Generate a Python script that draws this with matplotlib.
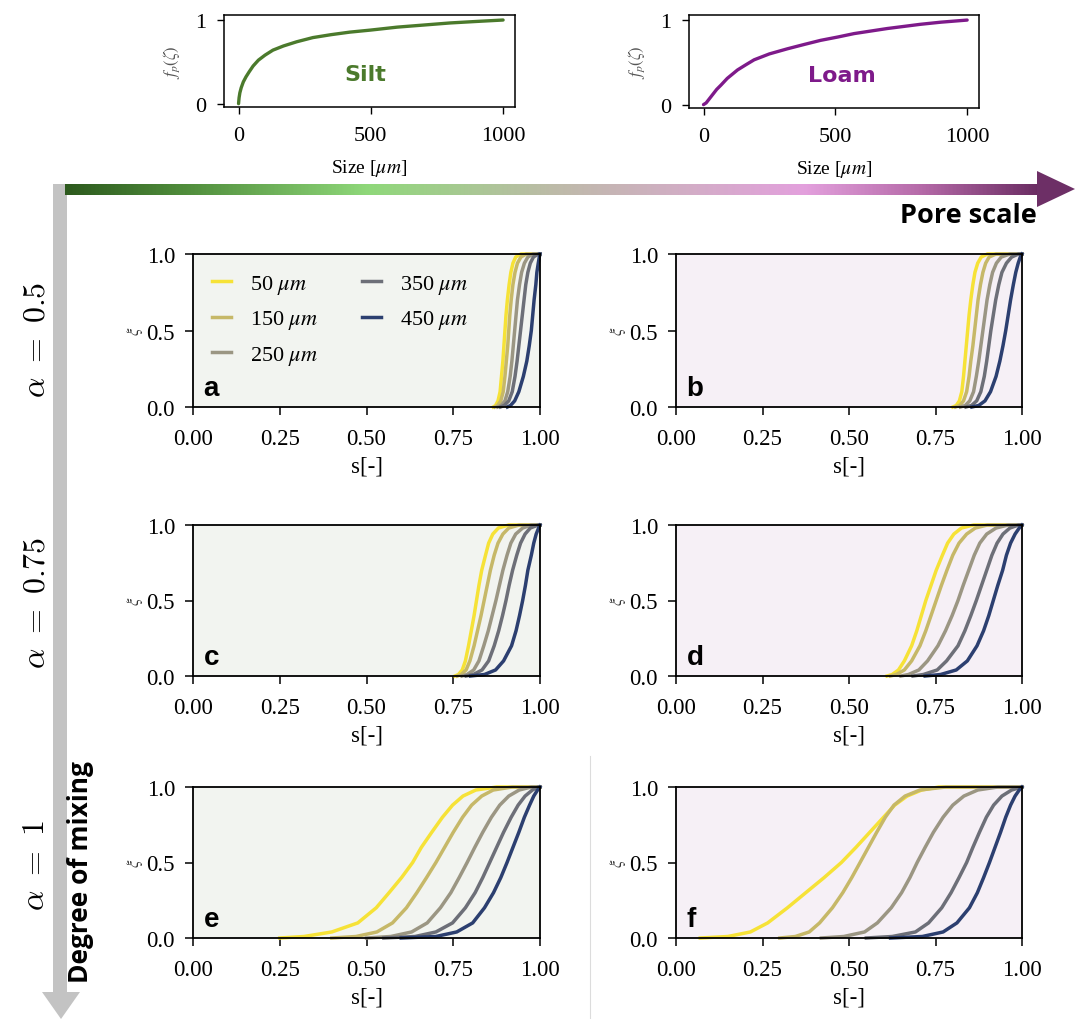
import matplotlib
matplotlib.use('Agg')
import numpy as np
import matplotlib.pyplot as plt
from matplotlib.colors import LinearSegmentedColormap
from matplotlib.patches import Polygon, Rectangle

# ---------------- data ----------------
SILT_SIZE = [0, 2, 5, 10, 18, 28, 40, 55, 75, 100, 130, 170, 220, 281, 350, 420,
             500, 600, 700, 800, 900, 1000]
SILT_FP = [0, 0.07, 0.13, 0.19, 0.26, 0.32, 0.38, 0.45, 0.52, 0.58, 0.64, 0.69,
           0.74, 0.79, 0.825, 0.855, 0.88, 0.915, 0.94, 0.965, 0.983, 1.0]
LOAM_SIZE = [0, 10, 20, 35, 50, 66, 90, 129, 160, 192, 250, 318, 380, 444, 510,
             571, 634, 697, 760, 823, 900, 1000]
LOAM_FP = [0, 0.02, 0.06, 0.12, 0.18, 0.23, 0.31, 0.41, 0.47, 0.53, 0.60, 0.66,
           0.71, 0.76, 0.80, 0.84, 0.87, 0.90, 0.925, 0.95, 0.975, 1.0]

SIZE_LABELS = [r'50 $\mu m$', r'150 $\mu m$', r'250 $\mu m$', r'350 $\mu m$', r'450 $\mu m$']
XI_LEVELS = [0, 0.01, 0.04, 0.1, 0.2, 0.3, 0.4, 0.5, 0.6, 0.7, 0.8, 0.88, 0.94, 0.98, 1.0]

# s values read at each XI level, one row per pore size (50, 150, 250, 350, 450 um)
PANEL_A = [
    [0.865, 0.872, 0.879, 0.885, 0.889, 0.893, 0.896, 0.899, 0.902, 0.906, 0.911, 0.916, 0.922, 0.930, 0.945],
    [0.870, 0.878, 0.887, 0.894, 0.899, 0.903, 0.907, 0.910, 0.913, 0.917, 0.922, 0.928, 0.935, 0.945, 0.960],
    [0.878, 0.888, 0.899, 0.907, 0.914, 0.919, 0.923, 0.927, 0.931, 0.935, 0.941, 0.947, 0.955, 0.965, 0.980],
    [0.886, 0.897, 0.910, 0.920, 0.928, 0.934, 0.939, 0.944, 0.949, 0.954, 0.959, 0.965, 0.972, 0.981, 0.995],
    [0.906, 0.915, 0.927, 0.939, 0.952, 0.962, 0.969, 0.975, 0.979, 0.983, 0.988, 0.991, 0.995, 0.998, 1.000],
]
PANEL_B = [
    [0.800, 0.810, 0.819, 0.826, 0.831, 0.835, 0.839, 0.843, 0.847, 0.852, 0.858, 0.864, 0.872, 0.882, 0.900],
    [0.808, 0.820, 0.831, 0.840, 0.847, 0.852, 0.858, 0.863, 0.868, 0.873, 0.880, 0.887, 0.895, 0.905, 0.925],
    [0.822, 0.836, 0.849, 0.860, 0.868, 0.875, 0.881, 0.887, 0.893, 0.899, 0.907, 0.915, 0.926, 0.940, 0.965],
    [0.838, 0.854, 0.869, 0.881, 0.891, 0.898, 0.904, 0.910, 0.917, 0.924, 0.933, 0.942, 0.955, 0.970, 0.990],
    [0.855, 0.875, 0.893, 0.909, 0.925, 0.936, 0.945, 0.953, 0.960, 0.967, 0.975, 0.982, 0.989, 0.995, 1.000],
]
PANEL_C = [
    [0.755, 0.765, 0.776, 0.785, 0.794, 0.802, 0.810, 0.817, 0.824, 0.832, 0.843, 0.852, 0.864, 0.880, 0.910],
    [0.762, 0.773, 0.787, 0.798, 0.810, 0.820, 0.830, 0.839, 0.848, 0.857, 0.868, 0.879, 0.893, 0.910, 0.940],
    [0.775, 0.790, 0.809, 0.824, 0.838, 0.851, 0.862, 0.873, 0.883, 0.893, 0.905, 0.916, 0.930, 0.950, 0.975],
    [0.787, 0.808, 0.833, 0.852, 0.868, 0.881, 0.892, 0.902, 0.911, 0.921, 0.933, 0.944, 0.957, 0.972, 0.995],
    [0.800, 0.840, 0.872, 0.895, 0.918, 0.931, 0.941, 0.950, 0.958, 0.965, 0.975, 0.982, 0.989, 0.996, 1.000],
]
PANEL_D = [
    [0.610, 0.625, 0.643, 0.660, 0.681, 0.696, 0.709, 0.722, 0.737, 0.752, 0.770, 0.785, 0.803, 0.825, 0.860],
    [0.620, 0.637, 0.660, 0.681, 0.705, 0.722, 0.737, 0.752, 0.767, 0.783, 0.800, 0.818, 0.840, 0.865, 0.900],
    [0.650, 0.672, 0.702, 0.727, 0.757, 0.779, 0.798, 0.815, 0.830, 0.846, 0.862, 0.878, 0.898, 0.925, 0.960],
    [0.685, 0.715, 0.755, 0.782, 0.815, 0.835, 0.852, 0.868, 0.883, 0.898, 0.913, 0.928, 0.945, 0.965, 0.990],
    [0.720, 0.765, 0.810, 0.842, 0.870, 0.889, 0.904, 0.917, 0.930, 0.944, 0.955, 0.967, 0.980, 0.992, 1.000],
]
PANEL_E = [
    [0.250, 0.320, 0.400, 0.475, 0.528, 0.565, 0.601, 0.633, 0.658, 0.688, 0.719, 0.748, 0.778, 0.815, 0.875],
    [0.400, 0.470, 0.530, 0.575, 0.615, 0.645, 0.673, 0.700, 0.725, 0.750, 0.777, 0.803, 0.832, 0.865, 0.920],
    [0.500, 0.570, 0.630, 0.675, 0.713, 0.743, 0.767, 0.790, 0.812, 0.835, 0.860, 0.884, 0.910, 0.940, 0.975],
    [0.550, 0.640, 0.700, 0.748, 0.785, 0.813, 0.835, 0.855, 0.875, 0.895, 0.917, 0.937, 0.957, 0.978, 0.995],
    [0.600, 0.700, 0.760, 0.806, 0.840, 0.866, 0.887, 0.905, 0.922, 0.939, 0.955, 0.970, 0.982, 0.993, 1.000],
]
PANEL_F = [
    [0.070, 0.150, 0.215, 0.265, 0.322, 0.375, 0.428, 0.478, 0.520, 0.560, 0.600, 0.632, 0.668, 0.710, 0.760],
    [0.300, 0.345, 0.385, 0.415, 0.452, 0.482, 0.508, 0.532, 0.556, 0.580, 0.605, 0.630, 0.662, 0.705, 0.780],
    [0.420, 0.485, 0.545, 0.582, 0.622, 0.652, 0.676, 0.697, 0.720, 0.744, 0.772, 0.800, 0.832, 0.872, 0.930],
    [0.550, 0.625, 0.692, 0.730, 0.768, 0.795, 0.818, 0.840, 0.858, 0.877, 0.897, 0.918, 0.942, 0.970, 1.000],
    [0.620, 0.712, 0.772, 0.812, 0.848, 0.871, 0.889, 0.906, 0.922, 0.938, 0.953, 0.967, 0.980, 0.992, 1.000],
]
PANEL_LETTERS = ['a', 'b', 'c', 'd', 'e', 'f']
ALPHA_LABELS = [r'$\alpha\ =\ 0.5$', r'$\alpha\ =\ 0.75$', r'$\alpha\ =\ 1$']
X_TICKS = [0, 0.25, 0.5, 0.75, 1.0]
X_TICK_LABELS = ['0.00', '0.25', '0.50', '0.75', '1.00']
Y_TICKS = [0, 0.5, 1.0]
Y_TICK_LABELS = ['0.0', '0.5', '1.0']

# ---------------- styles ----------------
plt.rcParams['font.family'] = ['Liberation Serif', 'DejaVu Serif']
plt.rcParams['mathtext.fontset'] = 'stix'
COLORS = ['#f6e237', '#c6b868', '#9b9683', '#6d6f78', '#2c3f70']
BG_LEFT = '#f2f4f0'
BG_RIGHT = '#f6f0f6'

W, H = 1077, 1020
fig = plt.figure(figsize=(W / 100, H / 100), dpi=100)

ov = fig.add_axes([0, 0, 1, 1])
ov.patch.set_visible(False)
ov.axis('off')


def px_axes(x0, y0, x1, y1):
    return fig.add_axes([x0 / W, 1 - y1 / H, (x1 - x0) / W, (y1 - y0) / H])


# ---------------- top plots ----------------
tops = [
    ((224, 16, 515, 108), SILT_SIZE, SILT_FP, '#4b7a2c', 'Silt', 0.485),
    ((689, 16, 979, 109), LOAM_SIZE, LOAM_FP, '#7e1a8a', 'Loam', 0.528),
]
for box, xs, ys, col, name, tx in tops:
    ax = px_axes(*box)
    ax.plot(xs, ys, color=col, lw=2.4, solid_capstyle='round')
    ax.set_xlim(-55, 1045)
    ax.set_ylim(-0.04, 1.06)
    ax.set_xticks([0, 500, 1000])
    ax.set_yticks([0, 1])
    ax.tick_params(labelsize=16, length=5, width=1)
    ax.tick_params(axis='x', pad=9)
    ax.tick_params(axis='y', pad=8)
    for sp in ax.spines.values():
        sp.set_linewidth(1.1)
    ax.set_xlabel(r'Size [$\mu m$]', fontsize=14, labelpad=8)
    ax.set_ylabel(r'$f_p(\zeta)$', fontsize=12, color='#555555', labelpad=9)
    ax.text(tx, 0.36, name, transform=ax.transAxes, family='DejaVu Sans',
            weight='bold', fontsize=16, color=col, ha='center', va='center')

# ---------------- main panels ----------------
cols = [(193, 540), (676, 1022)]
rows = [(255, 408), (526, 677), (788, 939)]
panels = [PANEL_A, PANEL_B, PANEL_C, PANEL_D, PANEL_E, PANEL_F]
for i, data in enumerate(panels):
    r, c = divmod(i, 2)
    ax = px_axes(cols[c][0], rows[r][0], cols[c][1], rows[r][1])
    ax.set_facecolor(BG_LEFT if c == 0 else BG_RIGHT)
    for s_vals, col, lab in zip(data, COLORS, SIZE_LABELS):
        ax.plot(list(s_vals) + [1.0], XI_LEVELS + [1.0], color=col, lw=2.5,
                label=lab, clip_on=False, solid_joinstyle='round')
    ax.set_xlim(0, 1)
    ax.set_ylim(0, 1)
    ax.set_xticks(X_TICKS)
    ax.set_xticklabels(X_TICK_LABELS)
    ax.set_yticks(Y_TICKS)
    ax.set_yticklabels(Y_TICK_LABELS)
    ax.tick_params(labelsize=16.5, length=6, width=1.1)
    ax.tick_params(axis='x', pad=9)
    ax.tick_params(axis='y', pad=7)
    for sp in ax.spines.values():
        sp.set_linewidth(1.3)
    ax.set_xlabel('s[-]', fontsize=16.5, labelpad=5)
    ax.set_ylabel(r'$\xi$', fontsize=12, color='#333333', labelpad=1)
    ax.text(0.03, 0.04, PANEL_LETTERS[i], transform=ax.transAxes,
            family='Liberation Sans', weight='bold', fontsize=20,
            ha='left', va='bottom', color='black')
    if i == 0:
        ax.legend(ncol=2, loc='upper left', frameon=False, fontsize=16,
                  handlelength=0.85, handletextpad=0.85, columnspacing=2.0,
                  labelspacing=0.56, borderaxespad=0.45)

# ---------------- overlay decorations ----------------
grad_cmap = LinearSegmentedColormap.from_list('pore', [
    (0.0, '#2d5a1e'), (0.12, '#4f8c3b'), (0.31, '#8fd87a'), (0.50, '#bdbba8'),
    (0.63, '#d1aec4'), (0.76, '#e3a0dd'), (0.88, '#b56aa8'), (1.0, '#6a2c62')])
ov.imshow(np.linspace(0, 1, 512)[None, :], cmap=grad_cmap, aspect='auto',
          extent=[65, 1040, 196, 185], interpolation='bilinear', zorder=2)
ov.add_patch(Polygon([(1037, 172), (1075, 190), (1037, 208)], closed=True,
                     facecolor='#6d2f66', edgecolor='none', zorder=2))
ov.add_patch(Rectangle((53, 185), 14, 810, facecolor='#c3c3c3',
                       edgecolor='none', zorder=1))
ov.add_patch(Polygon([(42, 993), (80, 993), (61, 1020)], closed=True,
                     facecolor='#c3c3c3', edgecolor='none', zorder=1))
ov.plot([590, 590], [757, 1020], color='#dcdcdc', lw=0.8)
ov.set_xlim(0, W)
ov.set_ylim(H, 0)

ov.text(1037, 216, 'Pore scale', ha='right', va='center', family='Open Sans',
        weight='bold', fontsize=19.5, color='black')
ov.text(81, 872, 'Degree of mixing', ha='center', va='center', rotation=90,
        family='Open Sans', weight='bold', fontsize=19, color='black')
for lab, yc in zip(ALPHA_LABELS, [340, 603, 866]):
    ov.text(37, yc, lab, ha='center', va='center', rotation=90, fontsize=23,
            math_fontfamily='cm', color='black')

fig.savefig('out.png', dpi=100)
